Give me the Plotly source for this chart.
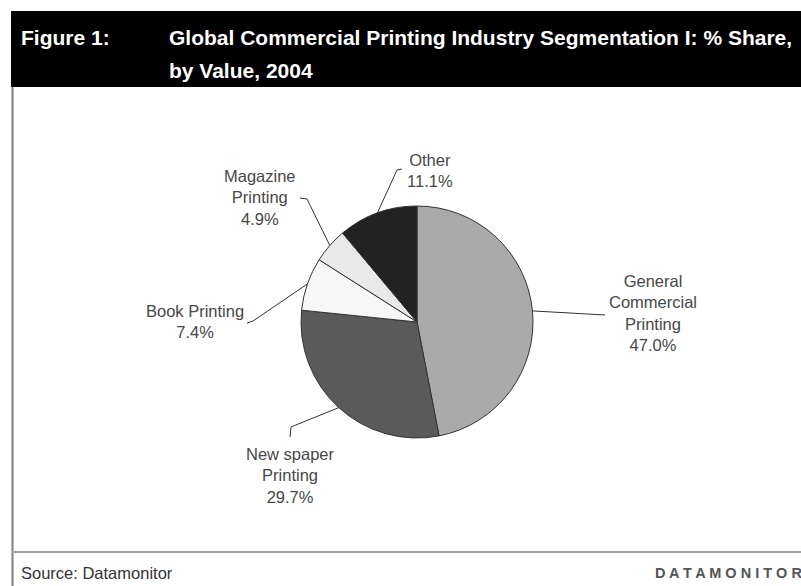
import math
import plotly.graph_objects as go

# ---- data ----
segments = ["General<br>Commercial<br>Printing", "New spaper<br>Printing", "Book Printing",
            "Magazine<br>Printing", "Other"]
shares = [47.0, 29.7, 7.4, 4.9, 11.1]
colors = ["#aaaaaa", "#5a5a5a", "#f6f6f6", "#e9e9e9", "#222222"]

title_line1 = "Global Commercial Printing Industry Segmentation I: % Share,"
title_line2 = "by Value, 2004"
fig_label = "Figure 1:"
source = "Source: Datamonitor"
brand = "D A T A M O N I T O R"

# ---- layout constants (pixels) ----
W, H = 801, 586
CX, CY, R = 417, 322, 116

def px(x, y):
    return x / W, 1 - y / H

# label centre positions and leader-line bend points (pixels)
label_pos = [(653, 313), (290, 475), (195, 321), (260, 198), (430, 170)]
leader_pts = [
    [(605, 315)],
    [(291, 427), (290, 437)],
    [(253, 321), (247, 323)],
    [(307, 199), (300, 198)],
    [(397, 170), (402, 169)],
]

fig = go.Figure()
fig.add_trace(go.Pie(
    labels=[s.replace("<br>", " ") for s in segments],
    values=shares,
    sort=False,
    direction="clockwise",
    rotation=0,
    textinfo="none",
    hoverinfo="label+percent",
    marker=dict(colors=colors, line=dict(color="#333333", width=1)),
    domain=dict(x=[(CX - R) / W, (CX + R) / W], y=[1 - (CY + R) / H, 1 - (CY - R) / H]),
    showlegend=False,
))

shapes = []
annotations = []

# header band
shapes.append(dict(type="rect", xref="paper", yref="paper",
                   x0=11 / W, x1=1, y0=1 - 87 / H, y1=1 - 11 / H,
                   fillcolor="black", line=dict(width=0), layer="below"))
# left border and bottom rule
shapes.append(dict(type="line", xref="paper", yref="paper",
                   x0=12.5 / W, x1=12.5 / W, y0=0, y1=1 - 87 / H,
                   line=dict(color="#808080", width=2)))
shapes.append(dict(type="line", xref="paper", yref="paper",
                   x0=12 / W, x1=1, y0=1 - 552 / H, y1=1 - 552 / H,
                   line=dict(color="#a0a0a0", width=2)))

total = sum(shares)
cum = 0.0
for i, v in enumerate(shares):
    mid = (cum + v / 2) / total
    cum += v
    ang = 2 * math.pi * mid
    ex, ey = CX + R * math.sin(ang), CY - R * math.cos(ang)
    pts = [(ex, ey)] + leader_pts[i]
    path = "M " + " L ".join("%.5f,%.5f" % px(x, y) for x, y in pts)
    shapes.append(dict(type="path", xref="paper", yref="paper", path=path,
                       line=dict(color="#333333", width=1)))
    lx, ly = label_pos[i]
    ax, ay = px(lx, ly)
    annotations.append(dict(
        text="%s<br>%.1f%%" % (segments[i], v), x=ax, y=ay, xref="paper", yref="paper",
        showarrow=False, xanchor="center", yanchor="middle", align="center",
        font=dict(family="Liberation Sans, Arial", size=16.5, color="#474747")))

# header texts
hfont = dict(family="Liberation Sans, Arial", size=21, color="white", weight="bold")
hx, hy = px(19, 38)
annotations.append(dict(text=fig_label, x=hx, y=hy, xref="paper", yref="paper",
                        showarrow=False, xanchor="left", yanchor="middle", font=hfont))
tx, ty = px(167, 38)
annotations.append(dict(text=title_line1, x=tx, y=ty, xref="paper", yref="paper",
                        showarrow=False, xanchor="left", yanchor="middle", font=hfont))
tx2, ty2 = px(167, 70)
annotations.append(dict(text=title_line2, x=tx2, y=ty2, xref="paper", yref="paper",
                        showarrow=False, xanchor="left", yanchor="middle", font=hfont))

# footer
sx, sy = px(19, 573)
annotations.append(dict(text=source, x=sx, y=sy, xref="paper", yref="paper",
                        showarrow=False, xanchor="left", yanchor="middle",
                        font=dict(family="Liberation Sans, Arial", size=16.5, color="#333333")))
bx, by = px(653, 573)
annotations.append(dict(text=brand, x=bx, y=by, xref="paper", yref="paper",
                        showarrow=False, xanchor="left", yanchor="middle",
                        font=dict(family="Liberation Sans, Arial", size=14.5, color="#555555", weight="bold")))

fig.update_layout(
    width=W, height=H,
    margin=dict(l=0, r=0, t=0, b=0),
    paper_bgcolor="white", plot_bgcolor="white",
    shapes=shapes, annotations=annotations,
)

fig.write_html("out.html")
